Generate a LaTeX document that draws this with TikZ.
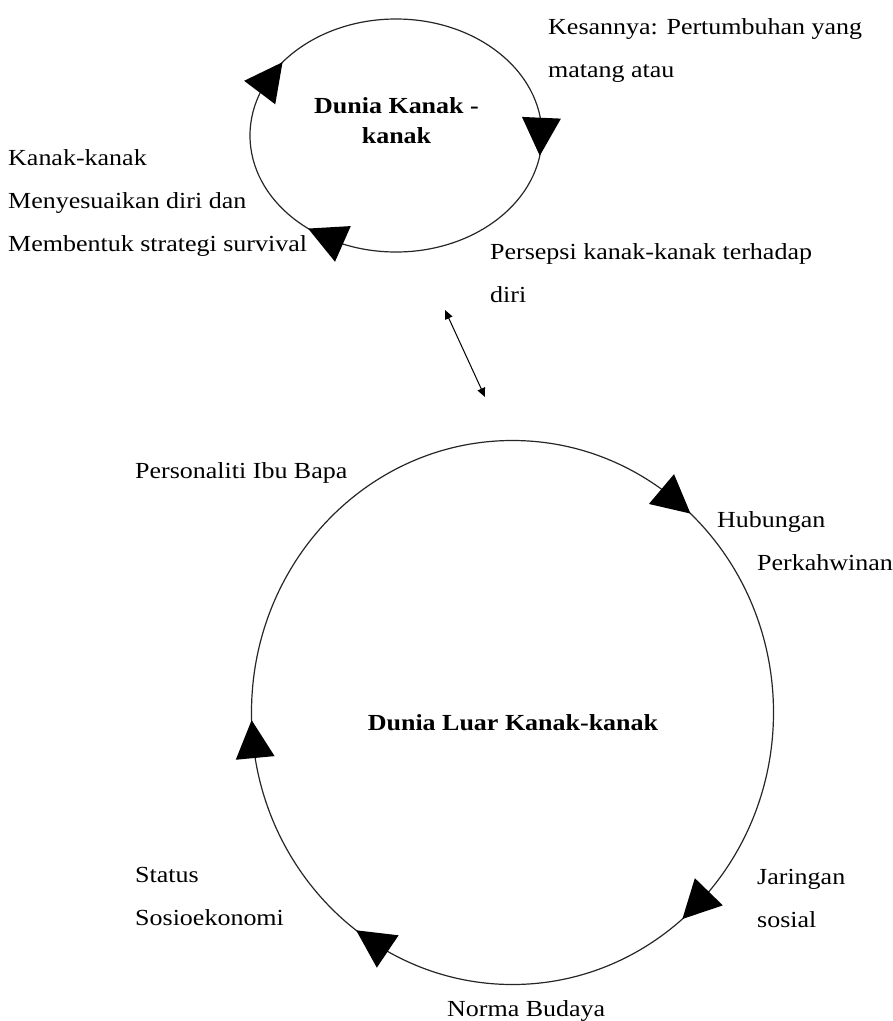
\documentclass[tikz,border=0pt]{standalone}
\usepackage{fontspec}
\setmainfont{Liberation Serif}[FakeStretch=1.13]
\usetikzlibrary{arrows.meta}
% #1,#2 centre, #3,#4 radii, #5 parameter of tip, #6 half chord angle
\newcommand\myhead[6]{%
  \pgfmathsetmacro\hx{#1+#3*cos(#5)}%
  \pgfmathsetmacro\hy{#2+#4*sin(#5)}%
  \pgfmathsetmacro\ha{atan2(#4*cos(#5-#6),-#3*sin(#5-#6))}%
  \pgfmathsetmacro\hux{cos(\ha)}%
  \pgfmathsetmacro\huy{sin(\ha)}%
  \fill[black] (\hx,\hy) -- ({\hx-38*\hux-19.5*\huy},{\hy-38*\huy+19.5*\hux})
     -- ({\hx-38*\hux+19.5*\huy},{\hy-38*\huy-19.5*\hux}) -- cycle;}
\begin{document}
\begin{tikzpicture}[x=1pt,y=-1pt,
  ring/.style={line width=1.2pt, draw=black!85},
  lbl/.style={anchor=base west, inner sep=0pt, align=left, font=\fontsize{23}{43}\selectfont},
  ttl/.style={anchor=base, inner sep=0pt, align=center, font=\fontsize{23}{30}\selectfont\bfseries},
  link/.style={line width=1pt, {Triangle[length=9pt,width=8pt]}-{Triangle[length=9pt,width=8pt]}}]
\useasboundingbox (0,0) rectangle (893,1021);
% top ellipse
\draw[ring] (396,135.5) ellipse [x radius=146, y radius=116.5];
\myhead{396}{135.5}{146}{116.5}{10}{8}
\myhead{396}{135.5}{146}{116.5}{127}{8}
\myhead{396}{135.5}{146}{116.5}{219}{8}
% large circle
\draw[ring] (512.5,712.5) ellipse [x radius=261, y radius=272];
\myhead{512.5}{712.5}{261}{272}{313}{4}
\myhead{512.5}{712.5}{261}{272}{49.4}{4}
\myhead{512.5}{712.5}{261}{272}{126.8}{4}
\myhead{512.5}{712.5}{261}{272}{178.4}{4}
% titles (base = last line)
\node[ttl] (inner) at (396.5,143) {Dunia Kanak -\\kanak};
\node[ttl] (outer) at (513,730) {Dunia Luar Kanak-kanak};
% labels (base = last line)
\node[lbl] (kesan) at (548,77) {Kesannya: Pertumbuhan yang\\matang atau};
\node[lbl] (sesuai) at (8,251) {Kanak-kanak\\Menyesuaikan diri dan\\Membentuk strategi survival};
\node[lbl] (persepsi) at (490,302) {Persepsi kanak-kanak terhadap\\diri};
\node[lbl] (ibubapa) at (135,478) {Personaliti Ibu Bapa};
\node[lbl] (kahwin) at (717,570) {Hubungan\\\hspace*{40pt}Perkahwinan};
\node[lbl] (jaringan) at (757,927) {Jaringan\\sosial};
\node[lbl] (status) at (135,925) {Status\\Sosioekonomi};
\node[lbl] (norma) at (447,1016) {Norma Budaya};
% link
\coordinate (la) at (445,310);
\coordinate (lb) at (485,397);
\draw[link] (la) -- (lb);
\end{tikzpicture}
\end{document}
